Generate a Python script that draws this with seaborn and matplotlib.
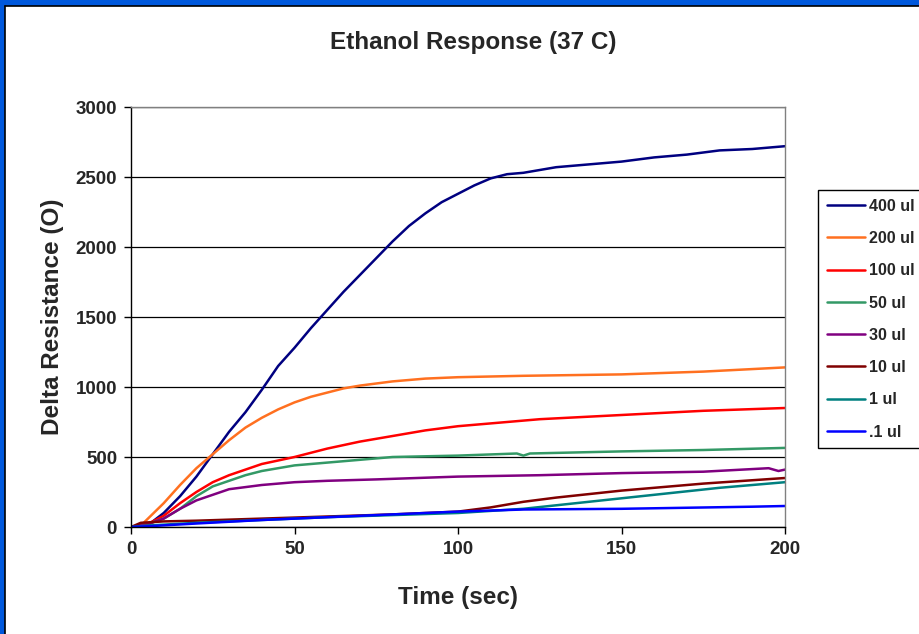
import matplotlib
matplotlib.use("Agg")
import matplotlib.pyplot as plt
import matplotlib.patches as mpatches
import pandas as pd
import seaborn as sns

sns.set_theme(style="white")
plt.rcParams["font.family"] = ["Liberation Sans", "DejaVu Sans"]
plt.rcParams["font.weight"] = "bold"

# values
t_400 = [0, 5, 10, 15, 20, 25, 30, 35, 40, 45, 50, 55, 60, 65, 70, 75, 80, 85, 90, 95,
         100, 105, 110, 115, 120, 130, 140, 150, 160, 170, 180, 190, 200]
r_400 = [0, 10, 100, 220, 360, 520, 680, 820, 980, 1150, 1280, 1420, 1550, 1680, 1800,
         1920, 2040, 2150, 2240, 2320, 2380, 2440, 2490, 2520, 2530, 2570, 2590, 2610,
         2640, 2660, 2690, 2700, 2720]

t_200 = [0, 3, 10, 15, 20, 25, 30, 35, 40, 45, 50, 55, 60, 65, 70, 80, 90, 100, 120, 150, 175, 200]
r_200 = [0, 10, 170, 300, 420, 520, 620, 710, 780, 840, 890, 930, 960, 990, 1010, 1040,
         1060, 1070, 1080, 1090, 1110, 1140]

t_100 = [0, 5, 10, 15, 20, 25, 30, 35, 40, 50, 60, 70, 80, 90, 100, 110, 125, 150, 175, 200]
r_100 = [0, 20, 80, 170, 250, 320, 370, 410, 450, 500, 560, 610, 650, 690, 720, 740, 770,
         800, 830, 850]

t_50 = [0, 5, 10, 15, 20, 25, 30, 35, 40, 50, 60, 70, 80, 100, 118, 120, 122, 150, 175, 200]
r_50 = [0, 20, 60, 130, 220, 290, 330, 370, 400, 440, 460, 480, 500, 510, 525, 510, 525,
        540, 550, 565]

t_30 = [0, 5, 10, 15, 20, 25, 30, 40, 50, 60, 75, 100, 125, 150, 175, 195, 198, 200]
r_30 = [0, 20, 60, 130, 190, 230, 270, 300, 320, 330, 340, 360, 370, 385, 395, 420, 400, 410]

t_10 = [0, 3, 10, 20, 40, 60, 80, 100, 110, 120, 130, 150, 175, 200]
r_10 = [0, 30, 40, 45, 60, 75, 90, 110, 140, 180, 210, 260, 310, 350]

t_1 = [0, 5, 20, 40, 60, 80, 100, 120, 140, 160, 180, 200]
r_1 = [0, 10, 30, 50, 70, 85, 100, 130, 180, 230, 280, 320]

t_01 = [0, 5, 20, 40, 60, 80, 100, 120, 150, 190, 200]
r_01 = [0, 5, 25, 50, 70, 90, 110, 125, 130, 145, 150]

labels = ["400 ul", "200 ul", "100 ul", "50 ul", "30 ul", "10 ul", "1 ul", ".1 ul"]
colors = ["#000080", "#FF7020", "#FF0000", "#339966", "#800080", "#800000", "#008080", "#0000FF"]

series = [(t_400, r_400), (t_200, r_200), (t_100, r_100), (t_50, r_50),
          (t_30, r_30), (t_10, r_10), (t_1, r_1), (t_01, r_01)]
frames = []
for lab, (t, r) in zip(labels, series):
    frames.append(pd.DataFrame({"time": t, "resistance": r, "volume": lab}))
df = pd.concat(frames, ignore_index=True)

fig = plt.figure(figsize=(9.2, 6.34), dpi=100)
fig.patch.set_facecolor("white")
# blue slide edge on left and top
fig.patches.append(mpatches.Rectangle((0, 0), 5 / 920, 1, transform=fig.transFigure,
                                      facecolor="#0058DC", edgecolor="none", zorder=0))
fig.patches.append(mpatches.Rectangle((0, 1 - 6 / 634), 1, 6 / 634, transform=fig.transFigure,
                                      facecolor="#0058DC", edgecolor="none", zorder=0))
fig.add_artist(plt.Line2D([5 / 920, 5 / 920], [0, 1 - 6 / 634], color="black", lw=1.2,
                          transform=fig.transFigure))
fig.add_artist(plt.Line2D([5 / 920, 1], [1 - 6 / 634, 1 - 6 / 634], color="black", lw=1.2,
                          transform=fig.transFigure))

ax = fig.add_axes([131 / 920, 1 - 527 / 634, 654 / 920, 420 / 634])
sns.lineplot(data=df, x="time", y="resistance", hue="volume", hue_order=labels,
             palette=colors, linewidth=1.8, ax=ax, sort=False, estimator=None)

ax.set_xlim(0, 200)
ax.set_ylim(0, 3000)
ax.set_xticks([0, 50, 100, 150, 200])
ax.set_yticks([0, 500, 1000, 1500, 2000, 2500, 3000])
ax.yaxis.grid(True, color="black", linewidth=0.9)
ax.set_axisbelow(True)
for side in ["left", "bottom"]:
    ax.spines[side].set_color("black")
    ax.spines[side].set_linewidth(1.0)
for side in ["top", "right"]:
    ax.spines[side].set_color("#808080")
    ax.spines[side].set_linewidth(1.0)
ax.tick_params(axis="both", direction="out", length=5, width=1, color="black",
               labelsize=13.5, pad=5, bottom=True, left=True)
for lbl in ax.get_xticklabels() + ax.get_yticklabels():
    lbl.set_fontweight("bold")

ax.set_xlabel("Time (sec)", fontsize=17.5, fontweight="bold", labelpad=20)
ax.set_ylabel("Delta Resistance (O)", fontsize=17.5, fontweight="bold", labelpad=8)
fig.text(473 / 920, 1 - 43 / 634, "Ethanol Response (37 C)", ha="center", va="center",
         fontsize=17.5, fontweight="bold")

handles, lbls = ax.get_legend_handles_labels()
ax.legend(handles, lbls, loc="upper left", bbox_to_anchor=(818 / 920, 1 - 190 / 634),
          bbox_transform=fig.transFigure, borderaxespad=0, frameon=True, fancybox=False,
          edgecolor="black", framealpha=1, borderpad=0.55, labelspacing=1.08,
          handlelength=2.4, handletextpad=0.25, prop={"weight": "bold", "size": 11.5})
ax.get_legend().get_frame().set_linewidth(1.0)
for ln in ax.get_legend().get_lines():
    ln.set_linewidth(1.8)

fig.savefig("out.png", dpi=100)
